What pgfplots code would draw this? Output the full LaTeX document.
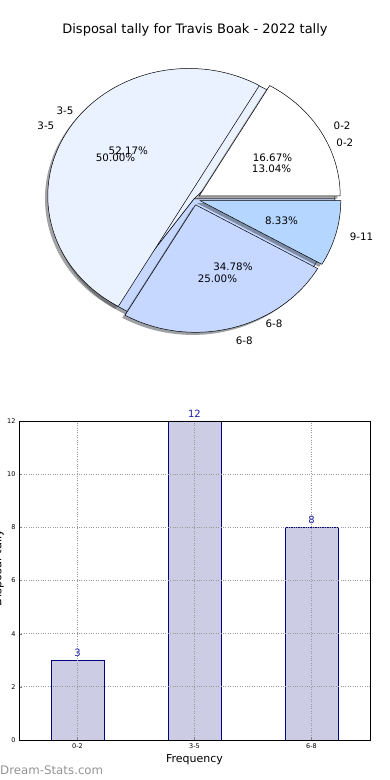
\documentclass[border=0pt]{standalone}
\usepackage{pgfplots}
\pgfplotsset{compat=1.18}
\usepackage{fontspec}
\setmainfont{DejaVu Sans}
\definecolor{c02}{RGB}{255,255,255}
\definecolor{c35}{RGB}{234,241,255}
\definecolor{c68}{RGB}{198,216,255}
\definecolor{c911}{RGB}{180,214,255}
\definecolor{barfill}{RGB}{204,204,228}
\definecolor{baredge}{RGB}{0,0,128}
\definecolor{vallab}{RGB}{30,30,165}
\def\cx{194}\def\cy{581}\def\rx{141}\def\ry{127.5}
% #1 data list value/colour/label, #2 total, #3 explode (pt), #4 mode: 0 shadow, 1 wedge, 2 labels
\newcommand\piepass[4]{%
\xdef\acc{0}%
\foreach \v/\col/\lab in {#1} {%
  \pgfmathsetmacro\a{\acc/#2*360}%
  \pgfmathsetmacro\b{(\acc+\v)/#2*360}%
  \pgfmathsetmacro\m{(\a+\b)/2}%
  \pgfmathsetmacro\ox{\cx+#3*cos(\m)}%
  \pgfmathsetmacro\oy{\cy+#3*sin(\m)}%
  \ifcase#4
    \pgfmathsetmacro\sx{\ox-2.8}\pgfmathsetmacro\sy{\oy-2.6}%
    \edef\temp{\noexpand\fill[fill=\col!30!black,opacity=0.5] (axis cs:\sx,\sy) -- ++(\a:\rx pt and \ry pt) arc[start angle=\a,end angle=\b,x radius=\rx pt,y radius=\ry pt] -- cycle;}\temp
  \or
    \edef\temp{\noexpand\filldraw[fill=\col,draw=black,line width=0.5pt,line join=round] (axis cs:\ox,\oy) -- ++(\a:\rx pt and \ry pt) arc[start angle=\a,end angle=\b,x radius=\rx pt,y radius=\ry pt] -- cycle;}\temp
  \or
    \pgfmathsetmacro\cm{cos(\m)}%
    \ifdim\cm pt>0pt \def\anc{west}\else\def\anc{east}\fi
    \pgfmathsetmacro\lx{\ox+1.1*\rx*cos(\m)}%
    \pgfmathsetmacro\ly{\oy+1.1*\ry*sin(\m)}%
    \pgfmathsetmacro\px{\ox+0.6*\rx*cos(\m)}%
    \pgfmathsetmacro\py{\oy+0.6*\ry*sin(\m)}%
    \pgfmathsetmacro\pct{100*\v/#2}%
    \pgfmathprintnumberto[fixed,fixed zerofill,precision=2,assume math mode=true]{\pct}{\pcttxt}%
    \edef\temp{\noexpand\node[anchor=\anc,inner sep=0pt,font=\noexpand\fontsize{10.3}{12}\noexpand\selectfont] at (axis cs:\lx,\ly) {\lab};}\temp
    \edef\temp{\noexpand\node[anchor=center,inner sep=0pt,font=\noexpand\fontsize{10.3}{12}\noexpand\selectfont] at (axis cs:\px,\py) {\unexpanded\expandafter{\pcttxt}\noexpand\%};}\temp
  \fi
  \pgfmathsetmacro\n{\acc+\v}\xdef\acc{\n}%
}}
\begin{document}
\begin{tikzpicture}[x=1pt,y=1pt]
\useasboundingbox (0pt,0pt) rectangle (390pt,780pt);
\node[font=\fontsize{13}{15}\selectfont] at (195pt,750pt) {Disposal tally for Travis Boak - 2022 tally};
\begin{axis}[at={(0pt,0pt)},anchor=south west,scale only axis,width=390pt,height=780pt,
  xmin=0,xmax=390,ymin=0,ymax=780,hide axis,clip=false]
% second pie (counts 3/12/8), drawn below
\piepass{3/c02/0-2,12/c35/3-5,8/c68/6-8}{23}{0}{0}
\piepass{3/c02/0-2,12/c35/3-5,8/c68/6-8}{23}{0}{1}
% first pie (counts 2/6/3/1), exploded, on top
\piepass{2/c02/0-2,6/c35/3-5,3/c68/6-8,1/c911/9-11}{12}{6}{0}
\piepass{2/c02/0-2,6/c35/3-5,3/c68/6-8,1/c911/9-11}{12}{6}{1}
\piepass{3/c02/0-2,12/c35/3-5,8/c68/6-8}{23}{0}{2}
\piepass{2/c02/0-2,6/c35/3-5,3/c68/6-8,1/c911/9-11}{12}{6}{2}
\end{axis}
\begin{axis}[at={(19pt,40pt)},anchor=south west,scale only axis,width=351pt,height=319pt,
  xmin=-0.5,xmax=2.5,ymin=0,ymax=12,ytick={0,2,4,6,8,10,12},
  xtick={0,1,2},xticklabels={0-2,3-5,6-8},
  xtick pos=left,ytick pos=left,
  xmajorgrids,ymajorgrids,grid style={dotted,black!40,line width=0.7pt},
  axis on top,
  tick label style={font=\fontsize{6.5}{7.5}\selectfont},
  /pgf/number format/assume math mode=true,
  tick align=inside,major tick length=3pt,
  axis line style={line width=0.6pt},
  xlabel={Frequency},
  xlabel style={at={(axis description cs:0.5,0)},anchor=center,yshift=-20pt,font=\fontsize{11}{13}\selectfont},
  clip=false]
\addplot[ybar,bar width=0.45,fill=barfill,draw=baredge,line width=0.6pt,
  nodes near coords,nodes near coords style={text=vallab,font=\fontsize{10}{12}\selectfont,/pgf/number format/assume math mode=true}]
  coordinates {(0,3) (1,12) (2,8)};
\end{axis}
\node[rotate=90,anchor=base,font=\fontsize{11.5}{13}\selectfont] at (1.5pt,212pt) {Disposal tally};
\node[anchor=west,inner sep=0pt,text=black!42,font=\fontsize{11.8}{14}\selectfont] at (0pt,10pt) {Dream-Stats.com};
\end{tikzpicture}
\end{document}
